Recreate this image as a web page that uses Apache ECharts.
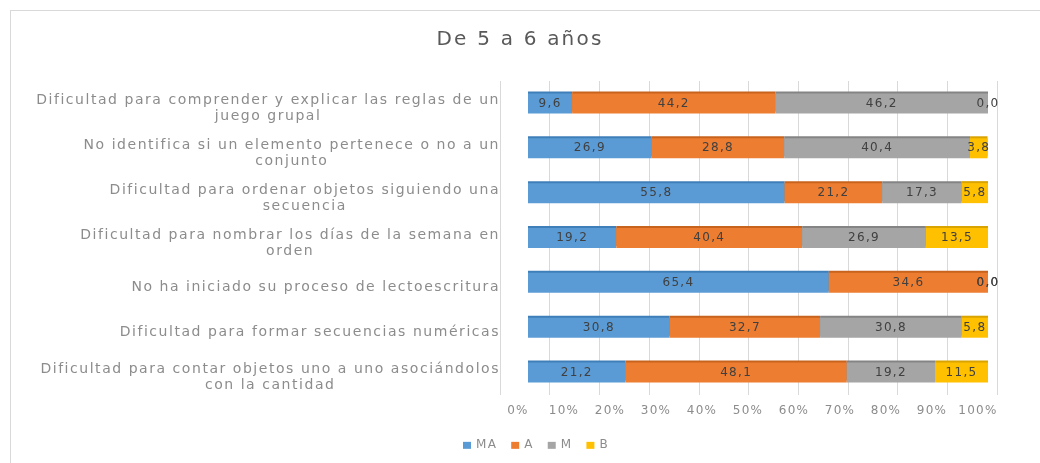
<!DOCTYPE html>
<html>
<head>
<meta charset="utf-8">
<script src="https://cdn.jsdelivr.net/npm/echarts@6/dist/echarts.min.js"></script>
<style>
  body { margin: 0; background: #fff; }
  #chart { width: 1040px; height: 463px; }
  .frame { position: absolute; left: 10px; top: 10px; width: 1040px; height: 463px; border: 1px solid #d9d9d9; pointer-events: none; }
</style>
</head>
<body>
<div id="chart"></div>
<div class="frame"></div>
<script>
// categorias de arriba hacia abajo
const categories = [
  'Dificultad para comprender y explicar las reglas de un\njuego grupal',
  'No identifica si un elemento pertenece o no a un\nconjunto',
  'Dificultad para ordenar objetos siguiendo una\nsecuencia',
  'Dificultad para nombrar los días de la semana en\norden',
  'No ha iniciado su proceso de lectoescritura',
  'Dificultad para formar secuencias numéricas',
  'Dificultad para contar objetos uno a uno asociándolos\ncon la cantidad'
]
const ma = [9.6, 26.9, 55.8, 19.2, 65.4, 30.8, 21.2]
const a = [44.2, 28.8, 21.2, 40.4, 34.6, 32.7, 48.1]
const m = [46.2, 40.4, 17.3, 26.9, 0, 30.8, 19.2]
const b = [0, 3.8, 5.8, 13.5, 0, 5.8, 11.5]
const seriesNames = ['MA', 'A', 'M', 'B']

const colors = ['#5b9bd5', '#ed7d31', '#a5a5a5', '#ffc000']
const topColors = ['#3f7fb9', '#c8631d', '#848484', '#d9a300']

// el texto del original es mas ancho: un poco de espaciado entre letras
const fontDesc = Object.getOwnPropertyDescriptor(CanvasRenderingContext2D.prototype, 'font')
Object.defineProperty(CanvasRenderingContext2D.prototype, 'font', {
  get () { return fontDesc.get.call(this) },
  set (v) {
    fontDesc.set.call(this, v)
    const px = /(\d+(\.\d+)?)px/.exec(v)
    if ('letterSpacing' in this && px) this.letterSpacing = (parseFloat(px[1]) * 0.11).toFixed(2) + 'px'
  }
})

const chart = echarts.init(document.getElementById('chart'))

const series = [ma, a, m, b].map((d, i) => {
  return {
    name: seriesNames[i],
    type: 'bar',
    stack: 'total',
    barWidth: 20,
    data: d,
    itemStyle: {
      color: colors[i],
      shadowColor: topColors[i],
      shadowOffsetY: -2,
      shadowBlur: 0
    },
    label: {
      show: true,
      position: 'inside',
      color: '#404040',
      fontSize: 12,
      fontFamily: 'DejaVu Sans',
      formatter: p => p.value.toFixed(1).replace('.', ',')
    }
  }
})

chart.setOption({
  textStyle: { fontFamily: 'DejaVu Sans' },
  title: {
    text: 'De 5 a 6 años',
    left: 'center',
    top: 24,
    textStyle: { fontSize: 20, fontWeight: 'normal', color: '#595959', fontFamily: 'DejaVu Sans' }
  },
  legend: {
    bottom: 6,
    left: 458,
    itemWidth: 8,
    itemHeight: 7,
    itemGap: 14,
    icon: 'rect',
    textStyle: { color: '#8c8c8c', fontSize: 12 },
    data: seriesNames
  },
  grid: [
    // barras
    { left: 528, right: 52, top: 81, bottom: 68, containLabel: false },
    // pared del fondo (3D): solo lineas de division
    { left: 500, right: 43, top: 81, bottom: 68, containLabel: false, z: 0 }
  ],
  xAxis: [
    {
      type: 'value',
      gridIndex: 0,
      min: 0,
      max: 100,
      interval: 10,
      axisLabel: {
        formatter: '{value}%',
        color: '#8c8c8c',
        fontSize: 12,
        margin: 9,
        padding: [0, 20, 0, 0]
      },
      axisLine: { show: false },
      axisTick: { show: false },
      splitLine: { show: false }
    },
    {
      type: 'value',
      gridIndex: 1,
      min: 0,
      max: 100,
      interval: 10,
      axisLabel: { show: false },
      axisLine: { show: false },
      axisTick: { show: false },
      splitLine: { lineStyle: { color: '#d9d9d9' } }
    }
  ],
  yAxis: [
    {
      type: 'category',
      gridIndex: 0,
      inverse: true,
      data: categories,
      axisLine: { show: false },
      axisTick: { show: false },
      axisLabel: {
        margin: 28,
        align: 'right',
        padding: [10, 0, 0, 0],
        formatter: v => '{c|' + v.split('\n').join('}\n{c|') + '}',
        rich: {
          c: { align: 'center', color: '#8c8c8c', fontSize: 14, lineHeight: 16, fontFamily: 'DejaVu Sans' }
        }
      }
    },
    {
      type: 'category',
      gridIndex: 1,
      data: categories,
      show: false
    }
  ],
  series
})
</script>
</body>
</html>
